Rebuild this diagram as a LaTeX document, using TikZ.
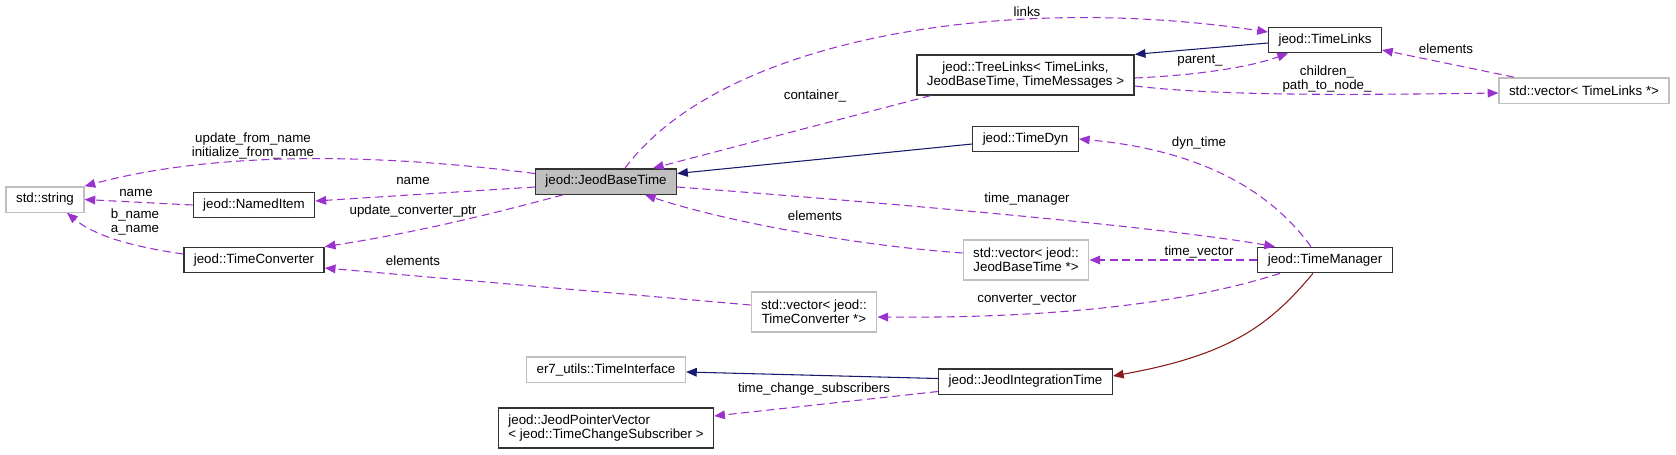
\documentclass[tikz,border=0pt]{standalone}
\usepackage{fontspec}
\setmainfont{Liberation Sans}
\usetikzlibrary{arrows.meta}

\definecolor{usecol}{HTML}{9A32CD}
\definecolor{inhcol}{HTML}{191970}
\definecolor{privcol}{HTML}{8B1A1A}
\definecolor{grey75}{HTML}{BFBFBF}

\begin{document}
\begin{tikzpicture}[x=0.75pt,y=-0.75pt,
    every node/.style={font=\fontsize{10}{10.5}\selectfont},
    cls/.style={draw=black!80,line width=1pt,fill=white,inner xsep=7.5pt,inner ysep=2pt,minimum height=19pt,align=center},
    undoc/.style={cls,draw=grey75},
    twoline/.style={minimum height=30pt},
    lbl/.style={inner sep=0pt,align=center},
    uses/.style={usecol,line width=0.8pt,dash pattern=on 6pt off 3.5pt,-{Triangle[length=8pt,width=6.5pt]}},
    isa/.style={inhcol,line width=0.8pt,-{Triangle[length=8pt,width=6.5pt]}},
    privisa/.style={privcol,line width=0.8pt,-{Triangle[length=8pt,width=6.5pt]}}]

            \useasboundingbox (0,0) rectangle (1676,454);

            % classes
            \node[undoc] (str) at (45,199.5) {std::string};
            \node[cls] (named) at (254,205) {jeod::NamedItem};
            \node[cls] (conv) at (254,260) {jeod::TimeConverter};
            \node[cls,fill=grey75] (base) at (606,181.5) {jeod::JeodBaseTime};
            \node[cls,twoline] (tree) at (1025.5,75) {jeod::TreeLinks< TimeLinks,\\ JeodBaseTime, TimeMessages >};
            \node[cls] (links) at (1325,40) {jeod::TimeLinks};
            \node[undoc] (vlinks) at (1584,90.5) {std::vector< TimeLinks *>};
            \node[cls] (dyn) at (1025.5,139) {jeod::TimeDyn};
            \node[undoc,twoline] (vbase) at (1026,260) {std::vector< jeod::\\JeodBaseTime *>};
            \node[cls] (mgr) at (1325,260) {jeod::TimeManager};
            \node[undoc,twoline] (vconv) at (814,312) {std::vector< jeod::\\TimeConverter *>};
            \node[undoc] (iface) at (606,369.5) {er7\_utils::TimeInterface};
            \node[cls] (integ) at (1025.5,381.5) {jeod::JeodIntegrationTime};
            \node[cls,twoline,align=left] (ptrvec) at (606,428) {jeod::JeodPointerVector\\< jeod::TimeChangeSubscriber >};

            % member labels
            \node[lbl] (lfrom) at (253,146) {update\_from\_name\\initialize\_from\_name};
            \node[lbl] (lname) at (136,193) {name};
            \node[lbl] (lbname) at (413,181) {name};
            \node[lbl] (lptr) at (413,211) {update\_converter\_ptr};
            \node[lbl] (lab) at (135,222) {b\_name\\a\_name};
            \node[lbl] (lconvel) at (413,261) {elements};
            \node[lbl] (lconvvec) at (1027,300) {converter\_vector};
            \node[lbl] (ltimevec) at (1199,252) {time\_vector};
            \node[lbl] (lbaseel) at (815,216) {elements};
            \node[lbl] (lmgr) at (1027,199) {time\_manager};
            \node[lbl] (lcont) at (815,96) {container\_};
            \node[lbl] (llinks) at (1027,12) {links};
            \node[lbl] (lparent) at (1200,61) {parent\_};
            \node[lbl] (lchild) at (1327,79.5) {children\_\\path\_to\_node\_};
            \node[lbl] (llinksel) at (1446,49) {elements};
            \node[lbl] (ldyn) at (1199,143) {dyn\_time};
            \node[lbl] (lsubs) at (814,389) {time\_change\_subscribers};

            % usage edges
            \draw[uses] ([shift={(0,-8)}]base.west) .. controls (350,150) and (200,155) .. (str.north east);
            \draw[uses] (named.west) -- (str.east);
            \draw[uses] ([shift={(0,5.5)}]base.west) -- ([shift={(0,-4)}]named.east);
            \draw[uses] ([shift={(-43,0)}]base.south) .. controls (470,220) and (400,235) .. (conv.north east);
            \draw[uses] ([shift={(0,-6)}]conv.west) .. controls (120,245) and (90,232) .. ([shift={(22,0)}]str.south);
            \draw[uses] ([shift={(0,-7)}]vconv.west) -- ([shift={(0,8)}]conv.east);
            \draw[uses] ([shift={(-45,0)}]mgr.south) .. controls (1160,312) and (1000,318) .. ([shift={(0,5)}]vconv.east);
            \draw[uses] (mgr.west) -- (vbase.east);
            \draw[uses] ([shift={(0,-7)}]vbase.west) .. controls (850,245) and (720,220) .. ([shift={(39,0)}]base.south);
            \draw[uses] ([shift={(0,5.5)}]base.east) .. controls (850,200) and (1150,225) .. ([shift={(-50,0)}]mgr.north);
            \draw[uses] ([shift={(-95,0)}]tree.south) -- ([shift={(47,0)}]base.north);
            \draw[uses] ([shift={(19,0)}]base.north) .. controls (720,40) and (1000,-8) .. ([shift={(0,-8)}]links.west);
            \draw[uses] ([shift={(0,3)}]tree.east) .. controls (1200,75) and (1250,67) .. ([shift={(-37,0)}]links.south);
            \draw[uses] ([shift={(0,11)}]tree.east) .. controls (1220,96) and (1350,95) .. ([shift={(0,2.5)}]vlinks.west);
            \draw[uses] ([shift={(-70,0)}]vlinks.north) -- ([shift={(0,10)}]links.east);
            \draw[uses] ([shift={(-14,0)}]mgr.north) .. controls (1270,190) and (1200,150) .. (dyn.east);
            \draw[uses] ([shift={(0,10)}]integ.west) -- ([shift={(0,-12)}]ptrvec.east);

            % inheritance edges
            \draw[isa] ([shift={(0,5)}]dyn.west) -- ([shift={(0,-8)}]base.east);
            \draw[isa] ([shift={(0,3)}]links.west) -- (tree.north east);
            \draw[isa] ([shift={(0,-3)}]integ.west) -- ([shift={(0,2.5)}]iface.east);
            \draw[privisa] ([shift={(-12,0)}]mgr.south) .. controls (1270,325) and (1230,355) .. ([shift={(0,-5.5)}]integ.east);
        \end{tikzpicture}
\end{document}
